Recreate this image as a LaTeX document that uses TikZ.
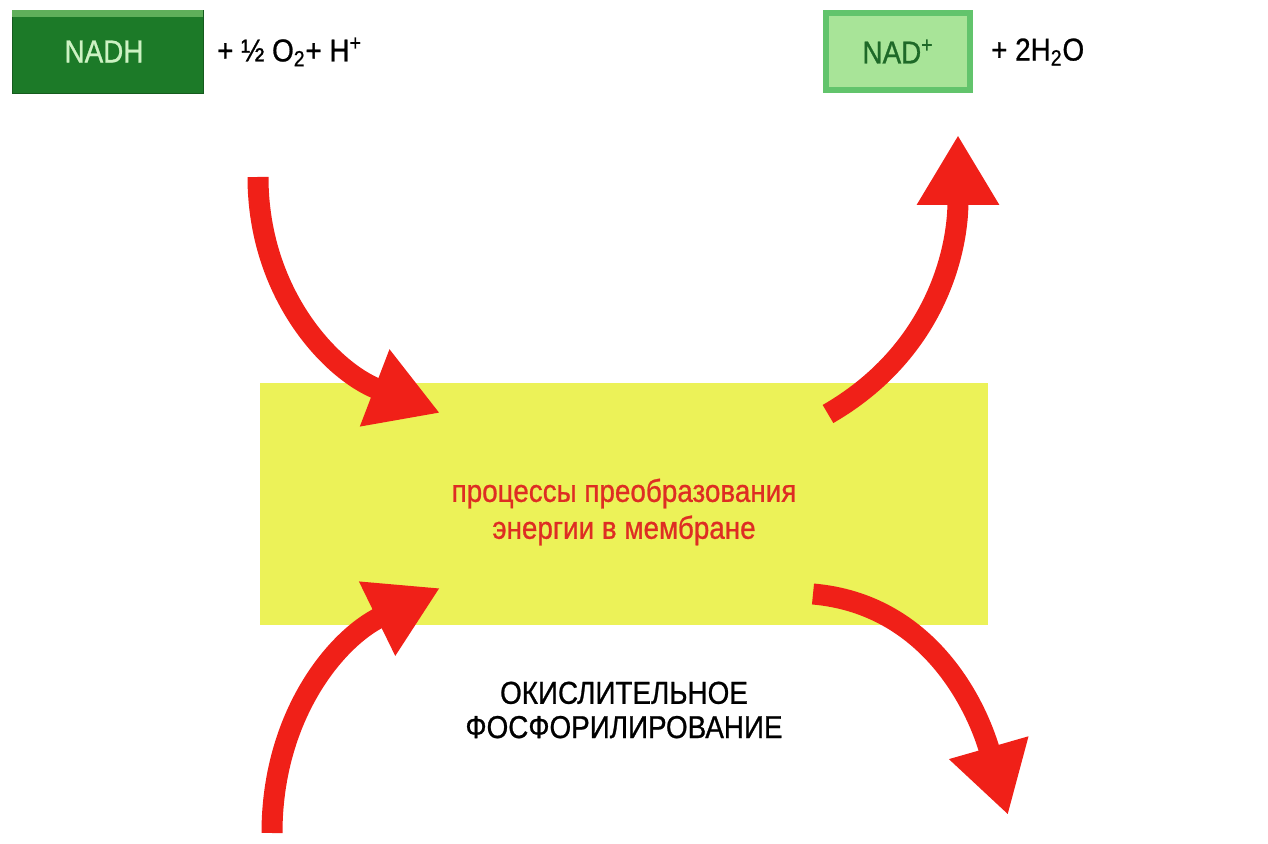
\documentclass[tikz,border=0pt]{standalone}
\usepackage{fontspec}
\setmainfont{Liberation Sans}
\usetikzlibrary{arrows.meta}

\definecolor{nadhgreen}{RGB}{28,122,40}
\definecolor{nadhtop}{RGB}{95,175,90}
\definecolor{nadhtext}{RGB}{205,242,195}
\definecolor{nadfill}{RGB}{168,228,152}
\definecolor{nadedge}{RGB}{98,196,108}
\definecolor{naddark}{RGB}{30,105,40}
\definecolor{membyellow}{RGB}{236,242,88}
\definecolor{flowred}{RGB}{240,32,24}
\definecolor{proctext}{RGB}{222,45,35}

\tikzset{
  flow/.style={draw=flowred, line width=0.42cm, -{Triangle[length=1.4cm,width=1.55cm]}},
  bigtext/.style={font=\fontsize{18}{21}\selectfont\addfontfeature{FakeStretch=0.88,FakeBold=0.8}},
}

\begin{document}
\begin{tikzpicture}
\useasboundingbox (0,0) rectangle (25.36,16.88);

% top line: NADH + 1/2 O2 + H+  ->  NAD+ + 2H2O
\node[fill=nadhgreen, draw=nadhgreen!75!black, minimum width=3.82cm, minimum height=1.66cm] (nadh) at (2.15,15.85) {};
\fill[nadhtop] (nadh.north west) rectangle ([yshift=-0.14cm]nadh.north east);
\node[bigtext, text=nadhtext] (nadhlabel) at (2.08,15.85) {NADH};
\node[bigtext, anchor=west] (reactants) at (4.22,15.84) {+ ½ O\textsubscript{2}+ H\textsuperscript{+}};

\node[fill=nadfill, draw=nadedge, line width=3.5pt, minimum width=2.88cm, minimum height=1.54cm, bigtext, text=naddark] (nad) at (17.96,15.85) {NAD\textsuperscript{+}};
\node[bigtext, anchor=west] (water) at (19.7,15.84) {+ 2H\textsubscript{2}O};

% membrane
\node[fill=membyellow, minimum width=14.56cm, minimum height=4.84cm] (membrane) at (12.48,6.8) {};
\node[bigtext, text=proctext, align=center] (proc) at (12.48,6.64) {процессы преобразования\\энергии в мембране};

\node[bigtext, align=center, font=\fontsize{18}{19.5}\selectfont\addfontfeature{FakeStretch=0.88,FakeBold=0.8}] (oxphos) at (12.48,2.68) {ОКИСЛИТЕЛЬНОЕ\\ФОСФОРИЛИРОВАНИЕ};

% red arrows
\coordinate (nadhin) at (5.16,13.34);
\coordinate (nadhtip) at (8.8,8.62);
\coordinate (nadout) at (16.56,8.6);
\coordinate (nadtip) at (19.16,14.18);
\coordinate (lowin) at (5.44,0.22);
\coordinate (lowtip) at (8.8,5.12);
\coordinate (lowout) at (16.26,5.0);
\coordinate (lowouttip) at (20.16,0.58);

\draw[flow] (nadhin) to[out=-90,in=159] (nadhtip);
\draw[flow] (nadout) to[out=30,in=-90] (nadtip);
\draw[flow] (lowin) to[out=90,in=206] (lowtip);
\draw[flow] (lowout) to[out=-5,in=106] (lowouttip);
\end{tikzpicture}
\end{document}
